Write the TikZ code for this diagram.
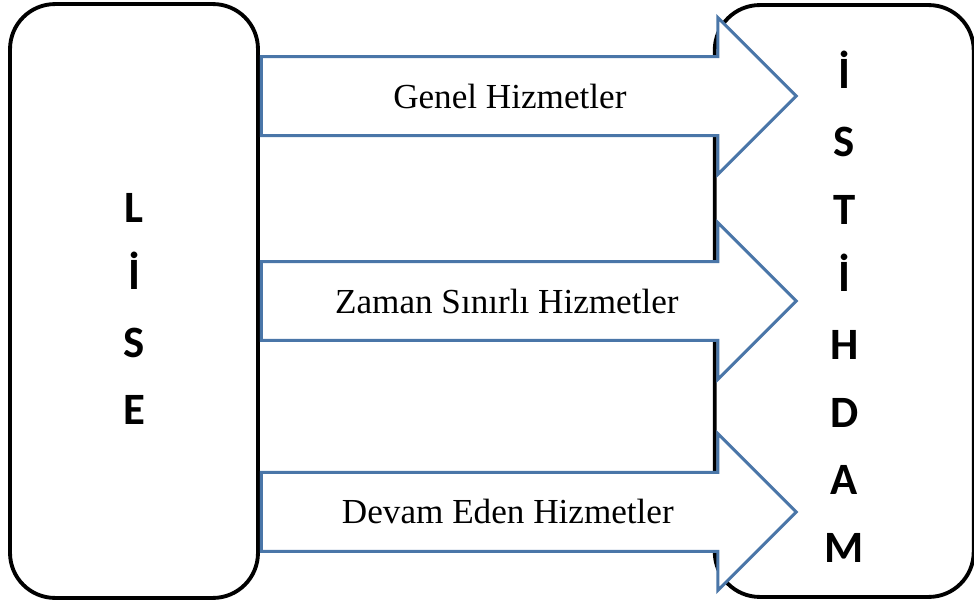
\documentclass[tikz,border=0pt]{standalone}
\usepackage{fontspec}
\setmainfont{Liberation Serif}
\newfontfamily\carlito{Carlito}
\usepackage{tikz}
\usetikzlibrary{positioning}
\usetikzlibrary{shapes.arrows}
\definecolor{arrowblue}{RGB}{74,118,168}
\tikzstyle{bigbox} = [rectangle, rounded corners=0.9cm, draw=black, line width=2.2pt, fill=white, inner sep=0pt]
\tikzstyle{letters} = [align=center, inner sep=0pt, font=\carlito\bfseries\fontsize{25.5}{38.5}\selectfont]
\tikzstyle{blockarrow} = [single arrow, draw=arrowblue, line width=1.7pt, fill=white, inner xsep=0pt, inner ysep=0.76cm, text height=0pt, text depth=0pt, minimum height=10.7cm, minimum width=3.08cm, single arrow head extend=0.78cm]
\tikzstyle{service} = [font=\fontsize{20}{20}\selectfont, inner sep=0pt]

\begin{document}
\begin{tikzpicture}[x=0.02cm, y=-0.02cm]
    \useasboundingbox (0,0) rectangle (974,605);
    \node(lise)[bigbox, minimum width=4.96cm, minimum height=11.88cm] at (134,301) {};
    \node(istihdam)[bigbox, minimum width=5.18cm, minimum height=11.84cm, right=9.06cm of lise] {};
    \node(liselbl)[letters] at ([yshift=-0.16cm]lise.center) {L\\İ\\S\\E};
    \node(istihdamlbl)[letters] at ([yshift=-0.12cm]istihdam.center) {İ\\S\\T\\İ\\H\\D\\A\\M};
    %
    \node(genel)[blockarrow, anchor=tail] at ([yshift=4.1cm]lise.east) {};
    \node(zaman)[blockarrow, anchor=tail] at (lise.east) {};
    \node(devam)[blockarrow, anchor=tail] at ([yshift=-4.22cm]lise.east) {};
    %
    \node(genellbl)[service] at ([xshift=5cm]genel.tail) {Genel Hizmetler};
    \node(zamanlbl)[service] at ([xshift=4.94cm]zaman.tail) {Zaman Sınırlı Hizmetler};
    \node(devamlbl)[service] at ([xshift=4.96cm]devam.tail) {Devam Eden Hizmetler};
\end{tikzpicture}
\end{document}
